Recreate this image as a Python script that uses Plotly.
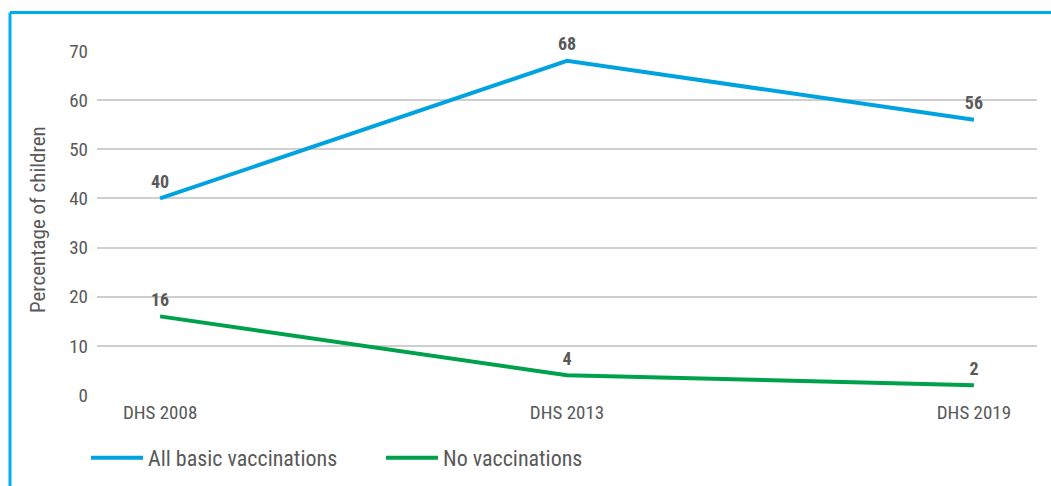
import plotly.graph_objects as go

surveys = ["DHS 2008", "DHS 2013", "DHS 2019"]
all_basic = [40, 68, 56]
no_vacc = [16, 4, 2]

FONT = "Roboto Condensed, Liberation Sans Narrow, DejaVu Sans Condensed, Roboto, sans-serif"
GREY = "#595959"
BLUE = "#00A3E0"
GREEN = "#00A14B"

label_font = dict(family=FONT, size=18, color=GREY, weight="bold")
# invisible markers just push the value labels a little higher above the line
ghost = dict(size=8, color="rgba(0,0,0,0)")

fig = go.Figure()
fig.add_trace(go.Scatter(
    x=surveys, y=all_basic, name="All basic vaccinations",
    mode="lines+markers+text", line=dict(color=BLUE, width=4), marker=ghost,
    text=[str(v) for v in all_basic], textposition="top center",
    textfont=label_font, cliponaxis=False,
))
fig.add_trace(go.Scatter(
    x=surveys, y=no_vacc, name="No vaccinations",
    mode="lines+markers+text", line=dict(color=GREEN, width=4), marker=ghost,
    text=[str(v) for v in no_vacc], textposition="top center",
    textfont=label_font, cliponaxis=False,
))

W, H = 1051, 486
L, R, T, B = 97, 14, 51, 91
pw, ph = W - L - R, H - T - B

def px(x):
    return (x - L) / pw

def py(y):
    return (H - B - y) / ph

# frame: top and left edges
fig.add_shape(type="line", xref="paper", yref="paper",
              x0=px(10), x1=px(1060), y0=py(12.5), y1=py(12.5),
              line=dict(color="#00AEEF", width=3))
fig.add_shape(type="line", xref="paper", yref="paper",
              x0=px(10), x1=px(10), y0=py(12.5), y1=py(500),
              line=dict(color="#00AEEF", width=3))

fig.add_annotation(text="Percentage of children", xref="paper", yref="paper",
                   x=px(38), y=py(220), xanchor="center", yanchor="middle",
                   textangle=-90, showarrow=False,
                   font=dict(family=FONT, size=21, color=GREY))

fig.update_layout(
    width=W, height=H,
    margin=dict(l=L, r=R, t=T, b=B, autoexpand=False),
    plot_bgcolor="white", paper_bgcolor="white",
    font=dict(family=FONT, size=19, color=GREY),
    showlegend=True,
    legend=dict(orientation="h", x=px(86), y=py(458), xanchor="left", yanchor="middle",
                font=dict(family=FONT, size=22, color=GREY),
                itemwidth=52, entrywidth=228, tracegroupgap=0),
    xaxis=dict(range=[-0.155, 2.155], showgrid=False, zeroline=False,
               showline=False, ticks="", ticklabelstandoff=4,
               tickfont=dict(size=19, color=GREY)),
    yaxis=dict(range=[0, 70], dtick=10, showgrid=True, gridcolor="#CFCFCF",
               gridwidth=1.5, zeroline=False, showline=False, ticks="",
               ticklabelstandoff=8,
               tickfont=dict(size=19, color=GREY)),
)

fig.write_html("out.html")
